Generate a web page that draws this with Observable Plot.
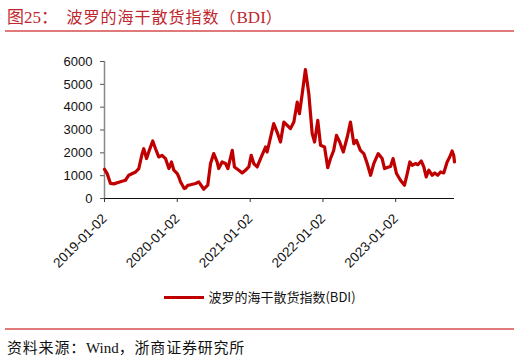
<!DOCTYPE html>
<html>
<head>
<meta charset="utf-8">
<script src="https://cdn.jsdelivr.net/npm/d3@7"></script>
<script src="https://cdn.jsdelivr.net/npm/@observablehq/plot@0.6"></script>
<style>
  html, body { margin: 0; padding: 0; background: #fff; }
  #wrap { position: relative; width: 520px; height: 360px; overflow: hidden; font-family: "Liberation Sans", Arial, sans-serif; }
  #title { position: absolute; left: 7px; top: 3px; font-family: "Liberation Serif", "Noto Sans CJK SC", serif; font-size: 17px; color: #c0262d; white-space: nowrap; }
  #title .cjk { font-family: "Noto Sans CJK SC", sans-serif; font-size: 16px; letter-spacing: 1px; }
  .rule { position: absolute; left: 5px; width: 509px; height: 2px; background: #e07a7a; }
  #chart { position: absolute; left: 0; top: 40px; }
  #chart svg g[aria-label="x-axis tick label"] text { font-size: 13.5px; }
  #legend { position: absolute; top: 287px; left: 0; width: 520px; text-align: center; font-size: 13px; color: #111; white-space: nowrap; }
  #legend .sw { display: inline-block; width: 40px; height: 3px; background: #c00000; vertical-align: middle; margin-right: 4px; position: relative; top: -1px; }
  #legend .lt { font-family: "Noto Sans CJK SC", sans-serif; }
  #source { position: absolute; left: 7px; top: 336px; font-size: 15px; color: #111; white-space: nowrap; font-family: "Liberation Serif", "Noto Sans CJK SC", serif; }
  #source .cjk { font-family: "Noto Sans CJK SC", sans-serif; letter-spacing: 0.8px; }
</style>
</head>
<body>
<div id="wrap">
  <div id="title">图25：&nbsp;&nbsp;<span class="cjk">波罗的海干散货指数（</span>BDI<span class="cjk">）</span></div>
  <div class="rule" style="top:30px"></div>
  <div id="chart"></div>
  <div id="legend"><span class="sw"></span><span class="lt">波罗的海干散货指数(BDI)</span></div>
  <div class="rule" style="top:328px"></div>
  <div id="source"><span class="cjk">资料来源：</span>Wind<span class="cjk">，浙商证券研究所</span></div>
</div>
<script>
const dates = [
  "2019-01-02","2019-01-15","2019-02-01","2019-02-18","2019-03-23","2019-04-17","2019-05-04","2019-06-07","2019-06-23","2019-07-10",
  "2019-07-18","2019-08-01","2019-08-12","2019-09-01","2019-09-15","2019-10-01","2019-10-18","2019-11-04","2019-11-21","2019-12-04",
  "2019-12-16","2020-01-02","2020-01-10","2020-01-18","2020-02-06","2020-02-12","2020-02-24","2020-03-08","2020-04-03","2020-04-19",
  "2020-05-14","2020-06-03","2020-06-17","2020-07-03","2020-07-20","2020-07-28","2020-08-14","2020-08-31","2020-09-12","2020-10-04",
  "2020-10-15","2020-11-06","2020-11-23","2020-12-09","2020-12-26","2021-01-07","2021-01-20","2021-02-06","2021-02-23","2021-03-20",
  "2021-03-28","2021-04-30","2021-05-20","2021-06-03","2021-06-20","2021-07-07","2021-07-23","2021-08-09","2021-08-26","2021-09-06",
  "2021-09-20","2021-10-06","2021-10-23","2021-11-09","2021-11-21","2021-12-07","2021-12-21","2022-01-10","2022-01-26","2022-02-09",
  "2022-02-25","2022-03-11","2022-03-27","2022-04-14","2022-05-04","2022-05-20","2022-06-06","2022-06-19","2022-07-09","2022-07-26",
  "2022-08-12","2022-08-29","2022-09-14","2022-10-06","2022-10-26","2022-11-07","2022-11-28","2022-12-07","2022-12-20","2023-01-06",
  "2023-01-26","2023-02-15","2023-03-01","2023-03-14","2023-03-26","2023-04-11","2023-04-23","2023-05-10","2023-05-23","2023-06-04",
  "2023-06-17","2023-07-04","2023-07-17","2023-08-01","2023-08-15","2023-08-31","2023-09-17","2023-09-30","2023-10-12","2023-10-20",
  "2023-10-24"
];
const bdi = [
  1280,1100,660,640,730,800,1020,1160,1310,1970,
  2180,1750,2040,2518,2180,1820,1890,1750,1310,1600,
  1240,1090,940,730,437,450,581,600,656,726,
  406,581,1530,1966,1600,1311,1600,1530,1311,2111,
  1381,1237,1119,1237,1381,1893,1530,1381,1748,2255,
  2037,3278,2841,2474,3348,3204,3060,3348,4222,3715,
  4589,5650,4589,2841,2474,3422,2330,2255,1350,1750,
  2111,2767,2474,2037,2692,3348,2400,2548,2111,1966,
  1530,1018,1530,1966,1748,1311,1381,1400,1748,1093,
  800,581,1093,1600,1455,1530,1480,1643,1381,944,
  1237,1018,1119,1018,1163,1119,1600,1818,2080,1893,
  1600
];
const yTicks = [0,1000,2000,3000,4000,5000,6000];
const xTickLabels = ["2019-01-02","2020-01-02","2021-01-02","2022-01-02","2023-01-02"];
const seriesName = "波罗的海干散货指数(BDI)";

const parse = d3.utcParse("%Y-%m-%d");
const data = dates.map((d, i) => ({date: parse(d), value: bdi[i]}));
const xTicks = xTickLabels.map(parse);

const chart = Plot.plot({
  width: 520,
  height: 240,
  marginLeft: 104,
  marginRight: 66,
  marginTop: 21,
  marginBottom: 82,
  style: {fontFamily: "'Liberation Sans', Arial, sans-serif", fontSize: "13px", color: "#111", background: "transparent"},
  x: {type: "utc", domain: [parse("2019-01-02"), parse("2023-10-24")]},
  y: {domain: [0, 6000]},
  marks: [
    Plot.ruleX([parse("2019-01-02")], {stroke: "#888", strokeWidth: 1.5}),
    Plot.ruleY([0], {stroke: "#111", strokeWidth: 1}),
    Plot.axisY({ticks: yTicks, tickSize: 4, tickPadding: 8, label: null, stroke: "#555", fontSize: 13, tickFormat: d3.format("d")}),
    Plot.axisX({ticks: xTicks, tickSize: 4, tickPadding: 14, tickRotate: -45, label: null, fontSize: 13.5, tickFormat: d3.utcFormat("%Y-%m-%d"), stroke: "#333"}),
    Plot.line(data, {x: "date", y: "value", stroke: "#c00000", strokeWidth: 3.2, strokeLinejoin: "round", strokeLinecap: "round"})
  ]
});
document.getElementById("chart").appendChild(chart);
</script>
</body>
</html>
